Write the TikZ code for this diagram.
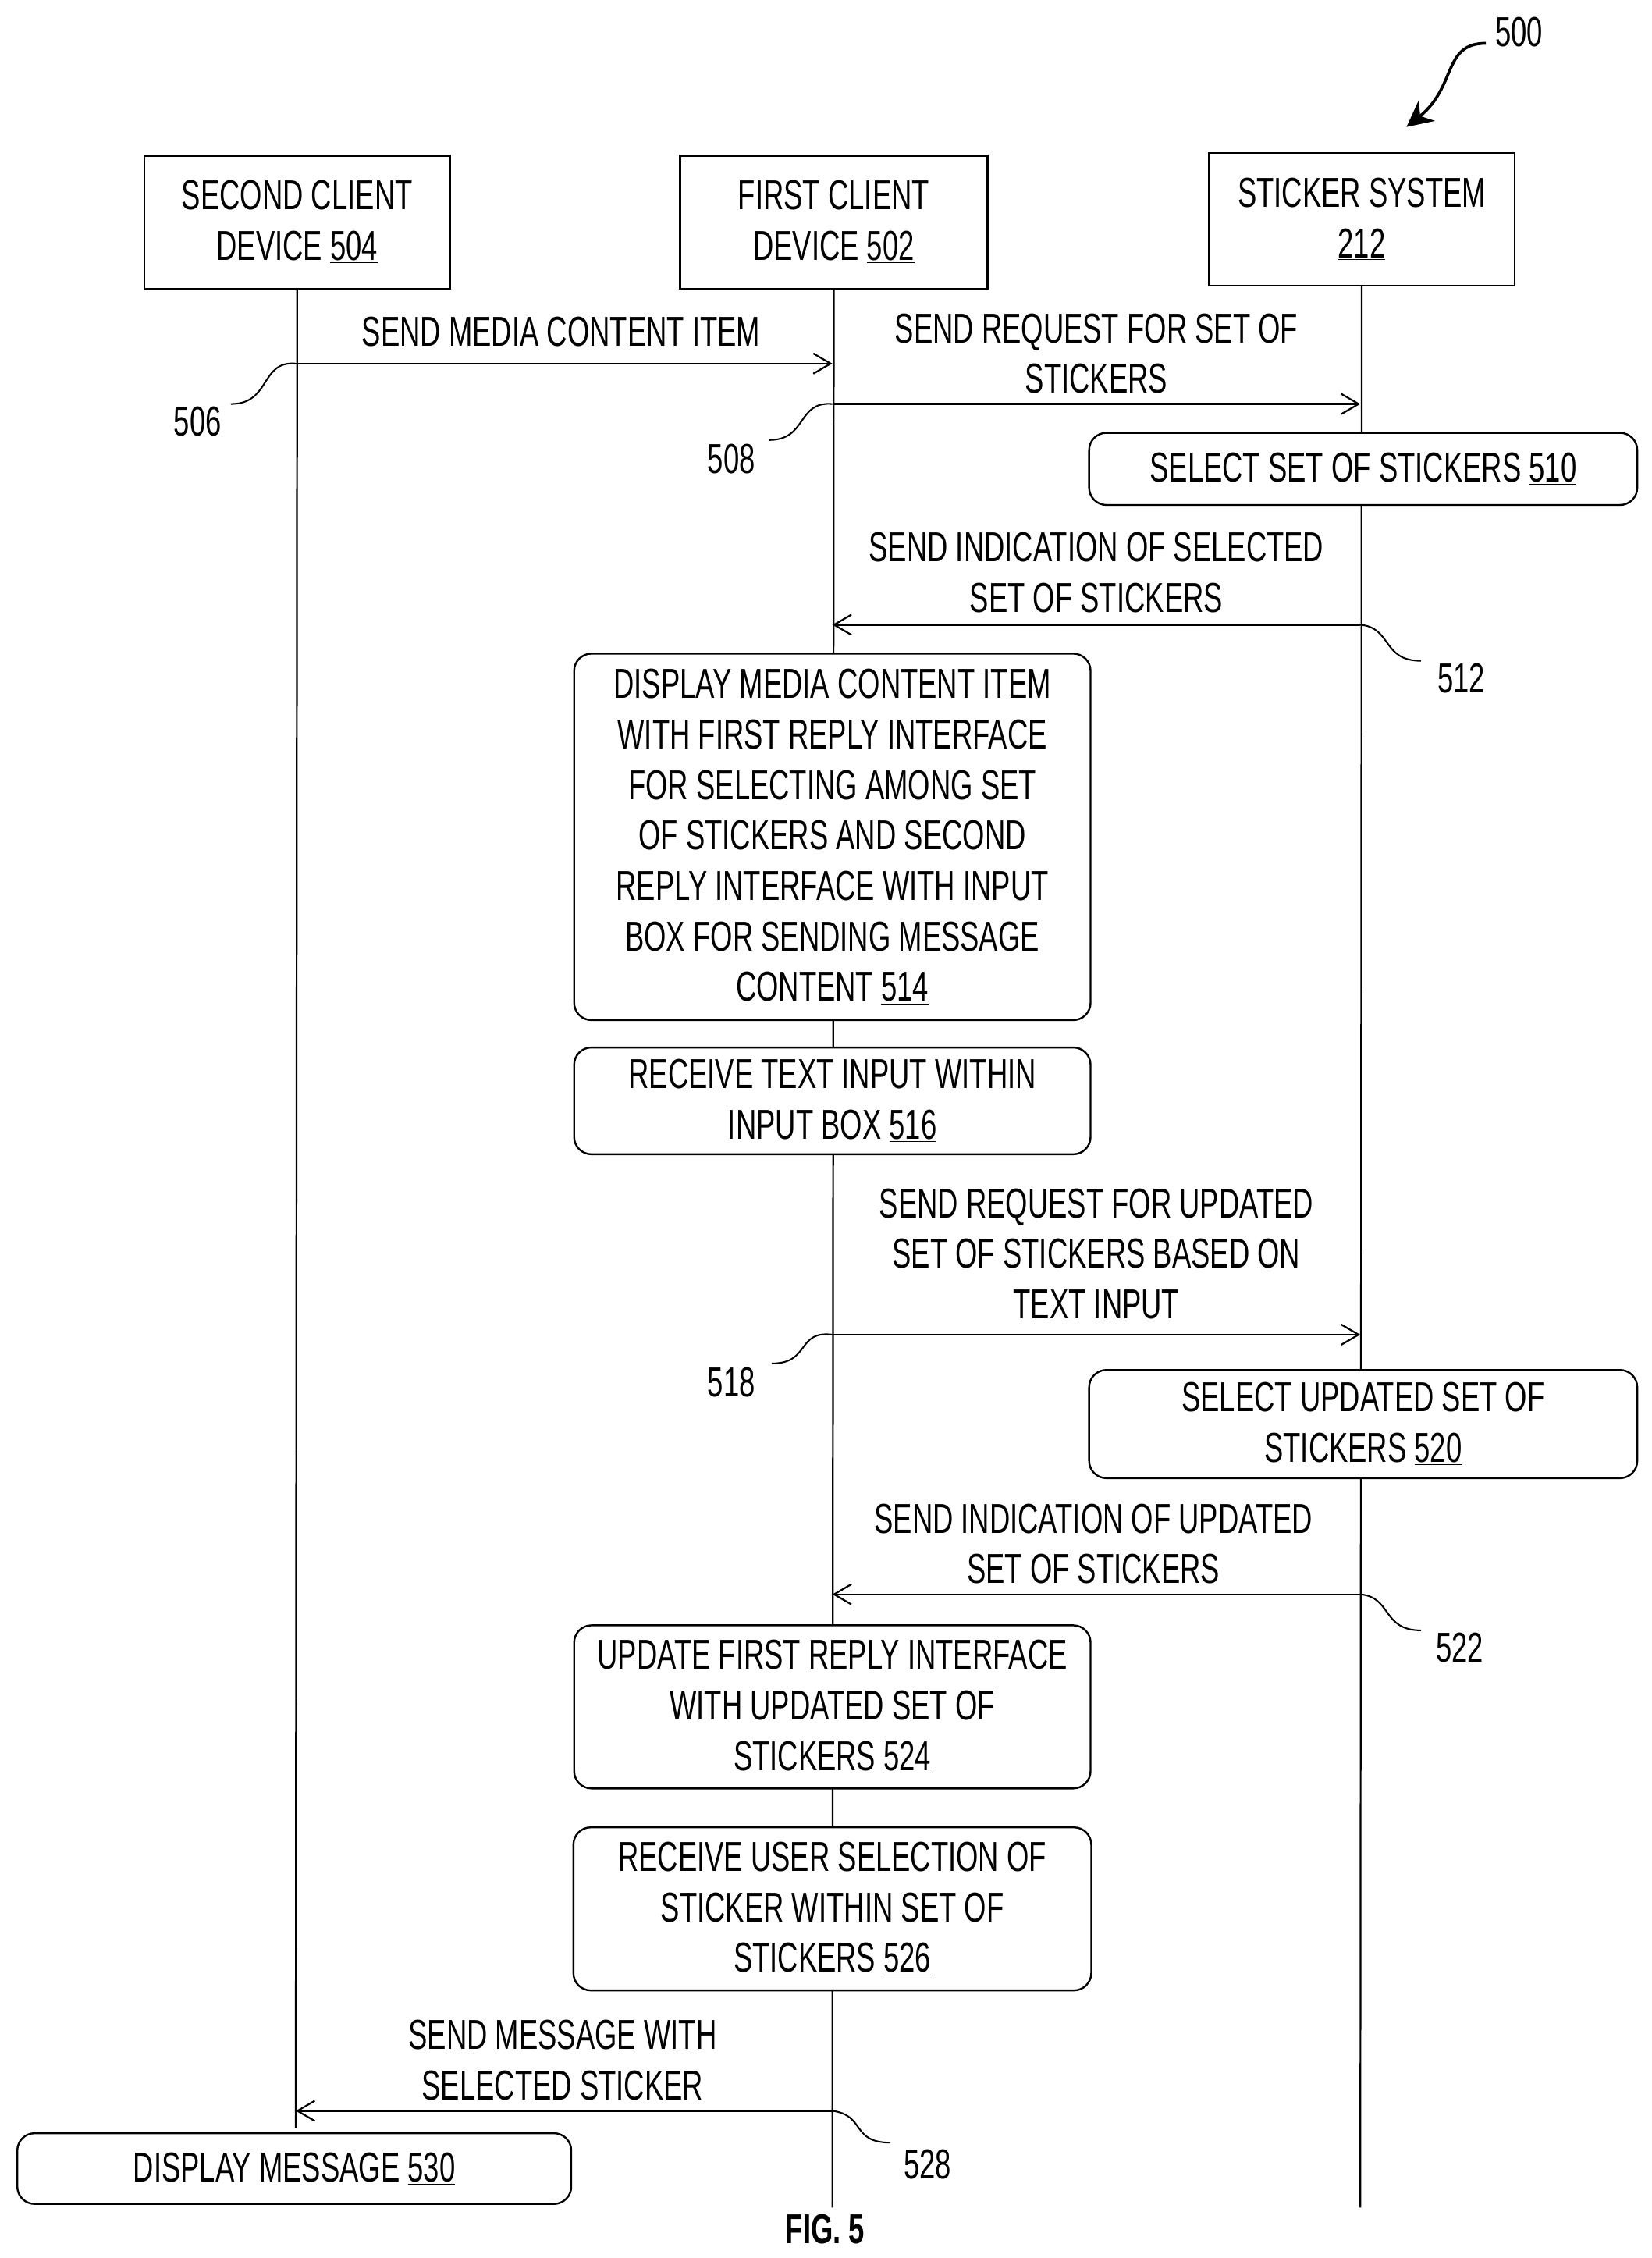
\documentclass[tikz,border=0pt]{standalone}
\usepackage{fontspec}
\setmainfont{Liberation Sans}[FakeStretch=0.68]
\usetikzlibrary{arrows.meta}
\begin{document}
\begin{tikzpicture}[x=1pt,y=-1pt,
  every node/.style={font=\fontsize{29}{35}\selectfont, align=center, inner sep=0pt},
  hdr/.style={draw, line width=1.3pt},
  box/.style={draw, fill=white, line width=1.3pt, rounded corners=12pt},
  life/.style={line width=1.2pt},
  msg/.style={line width=1.2pt, -{Straight Barb[length=12pt,width=14pt]}},
  sq/.style={line width=1.1pt}]
\useasboundingbox (0,0) rectangle (1145,1565);
% headers
\node[hdr, minimum width=212pt, minimum height=92pt] (h2) at (206,154) {SECOND CLIENT\\DEVICE \underline{504}};
\node[hdr, minimum width=213pt, minimum height=92pt] (h1) at (578,154) {FIRST CLIENT\\DEVICE \underline{502}};
\node[hdr, minimum width=212pt, minimum height=92pt] (hs) at (944,152) {STICKER SYSTEM\\\underline{212}};
\coordinate (e2) at (205,1475);
\coordinate (e1) at (577,1530);
\coordinate (es) at (943,1530);
\draw[life] (h2.south) -- (e2);
\draw[life] (h1.south) -- (e1);
\draw[life] (hs.south) -- (es);
% 500
\node (n500) at (1053,22) {500};
\coordinate (t500) at (975,88);
\draw[line width=2pt, -{Stealth[length=18pt,width=18pt]}] (1030,30) .. controls (1000,30) and (1010,60) .. (t500);
% messages
\coordinate (a1) at (205,252); \coordinate (b1) at (577,252);
\draw[msg] (a1) -- (b1);
\node at (389,230) {SEND MEDIA CONTENT ITEM};
\node (n506) at (137,292) {506};
\draw[sq] (a1) .. controls (180,250) and (188,280) .. (160,280);

\coordinate (a2) at (577,280); \coordinate (b2) at (943,280);
\draw[msg] (a2) -- (b2);
\node at (760,245) {SEND REQUEST FOR SET OF\\STICKERS};
\node (n508) at (507,318) {508};
\draw[sq] (a2) .. controls (552,278) and (560,305) .. (533,305);

\node[box, minimum width=380pt, minimum height=50pt] (b510) at (945,325) {SELECT SET OF STICKERS \underline{510}};

\coordinate (a3) at (943,433); \coordinate (b3) at (577,433);
\draw[msg] (a3) -- (b3);
\node at (760,397) {SEND INDICATION OF SELECTED\\SET OF STICKERS};
\node (n512) at (1013,470) {512};
\draw[sq] (a3) .. controls (965,435) and (958,458) .. (985,458);

\node[box, minimum width=358pt, minimum height=254pt] (b514) at (577,580) {DISPLAY MEDIA CONTENT ITEM\\WITH FIRST REPLY INTERFACE\\FOR SELECTING AMONG SET\\OF STICKERS AND SECOND\\REPLY INTERFACE WITH INPUT\\BOX FOR SENDING MESSAGE\\CONTENT \underline{514}};
\node[box, minimum width=358pt, minimum height=74pt] (b516) at (577,763) {RECEIVE TEXT INPUT WITHIN\\INPUT BOX \underline{516}};

\coordinate (a4) at (577,925); \coordinate (b4) at (943,925);
\draw[msg] (a4) -- (b4);
\node at (760,869) {SEND REQUEST FOR UPDATED\\SET OF STICKERS BASED ON\\TEXT INPUT};
\node (n518) at (507,958) {518};
\draw[sq] (a4) .. controls (552,922) and (562,945) .. (535,945);

\node[box, minimum width=380pt, minimum height=75pt] (b520) at (945,987) {SELECT UPDATED SET OF\\STICKERS \underline{520}};

\coordinate (a5) at (943,1105); \coordinate (b5) at (577,1105);
\draw[msg] (a5) -- (b5);
\node at (758,1070) {SEND INDICATION OF UPDATED\\SET OF STICKERS};
\node (n522) at (1012,1142) {522};
\draw[sq] (a5) .. controls (965,1107) and (958,1130) .. (985,1130);

\node[box, minimum width=358pt, minimum height=113pt] (b524) at (577,1183) {UPDATE FIRST REPLY INTERFACE\\WITH UPDATED SET OF\\STICKERS \underline{524}};
\node[box, minimum width=359pt, minimum height=113pt] (b526) at (577,1323) {RECEIVE USER SELECTION OF\\STICKER WITHIN SET OF\\STICKERS \underline{526}};

\coordinate (a6) at (577,1463); \coordinate (b6) at (205,1463);
\draw[msg] (a6) -- (b6);
\node at (390,1428) {SEND MESSAGE WITH\\SELECTED STICKER};
\node (n528) at (643,1500) {528};
\draw[sq] (a6) .. controls (600,1466) and (590,1485) .. (617,1485);

\node[box, minimum width=384pt, minimum height=49pt] (b530) at (204,1503) {DISPLAY MESSAGE \underline{530}};
\node[font=\fontsize{29}{35}\selectfont\bfseries] (fig) at (572,1545) {FIG. 5};
\end{tikzpicture}
\end{document}
